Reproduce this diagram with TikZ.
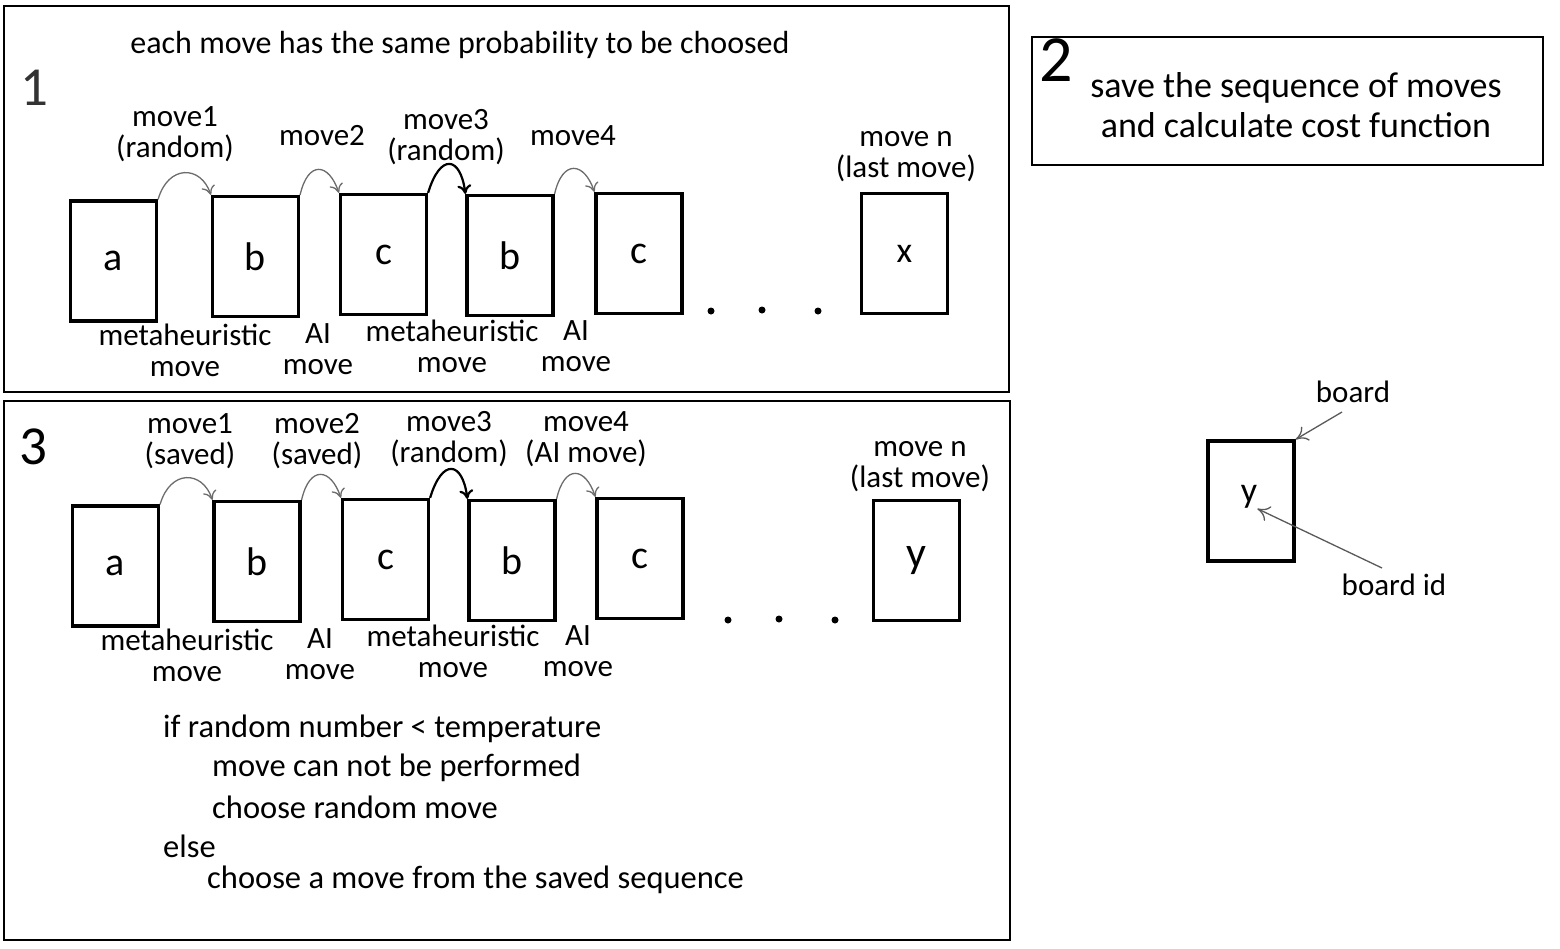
\documentclass[tikz,border=0pt]{standalone}
\usepackage{fontspec}
\setmainfont{Carlito}
\usetikzlibrary{arrows.meta,positioning,calc}

\tikzset{
  cell/.style={draw, line width=3.2pt, minimum width=86pt, minimum height=120pt, inner sep=0pt, font=\fontsize{40}{40}\selectfont},
  lbl/.style={align=center, inner sep=0pt, font=\fontsize{31}{31}\selectfont},
  txt/.style={anchor=west, inner sep=0pt, font=\fontsize{32.5}{32}\selectfont},
  num/.style={inner sep=0pt, font=\fontsize{55}{55}\selectfont},
  panel/.style={draw, line width=2.6pt},
  hop/.style={-{To[length=9pt,width=14pt]}, gray!85!black, line width=1.3pt},
  hopdark/.style={-{To[length=9pt,width=14pt]}, black, line width=2.2pt},
  pointer/.style={-{To[length=12pt,width=16pt]}, gray!70!black, line width=1.3pt},
  dot/.style={circle, fill, inner sep=0pt, minimum size=7pt}
}

\begin{document}
\begin{tikzpicture}[x=1pt,y=-1pt]
\useasboundingbox (0,0) rectangle (1560,948);

% panels
\draw[panel] (4,6) rectangle (1009,392);
\draw[panel] (4,401) rectangle (1010,940);
\draw[panel] (1032,37) rectangle (1543,165);

% panel 1
\node[num, gray!40!black] (n1) at (34,88) {1};
\node[lbl, font=\fontsize{32}{32}\selectfont] (t1) at (460,45) {each move has the same probability to be choosed};

\node[cell] (a1) at (113.5,261) {a};
\node[cell] (b1) at (255.5,256.5) {b};
\node[cell] (c1) at (383.5,254.5) {c};
\node[cell] (d1) at (510,255.5) {b};
\node[cell] (e1) at (639,253.5) {c};
\node[cell, font=\fontsize{36}{36}\selectfont] (x1) at (904.5,253.5) {x};

\node[dot] (p1) at (711,311) {};
\node[dot] (q1) at (762,310) {};
\node[dot] (r1) at (818,311) {};

\node[lbl] (m11) at (175,134) {move1\\(random)};
\node[lbl] (m12) at (322,136) {move2};
\node[lbl] (m13) at (446,137) {move3\\(random)};
\node[lbl] (m14) at (573,136) {move4};
\node[lbl] (m1n) at (906,157) {move n\\(last move)};

\node[lbl] (k11) at (185,350) {metaheuristic\\move};
\node[lbl] (k12) at (318,349) {AI\\move};
\node[lbl] (k13) at (452,346) {metaheuristic\\move};
\node[lbl] (k14) at (576,346) {AI\\move};

\draw[hop] (a1.north east) .. controls +(10,-35) and +(-10,-30) .. (b1.north west);
\draw[hop] (b1.north east) .. controls +(8,-35) and +(-10,-30) .. (c1.north west);
\draw[hopdark] (c1.north east) .. controls +(12,-40) and +(-5,-38) .. (d1.north west);
\draw[hop] (d1.north east) .. controls +(8,-35) and +(-10,-30) .. (e1.north west);

% panel 2
\node[num, font=\fontsize{66}{66}\selectfont] (n2) at (1056,60) {2};
\node[lbl, font=\fontsize{36}{40}\selectfont] (t2) at (1296,105) {save the sequence of moves\\and calculate cost function};

% board legend
\node[cell] (bd) at (1251,501) {};
\node[inner sep=0pt, font=\fontsize{36}{36}\selectfont] (bid) at (1249,497) {y};
\node[lbl] (bl) at (1353,392) {board};
\node[lbl] (bil) at (1394,585) {board id};
\coordinate (bt) at (1342,412);
\coordinate (bit) at (1382,568);
\draw[pointer] (bt) -- (bd.north east);
\draw[pointer] (bit) -- (bid.south east);

% panel 3
\node[num] (n3) at (33,447) {3};

\node[cell] (a3) at (115.5,566) {a};
\node[cell] (b3) at (257,561.5) {b};
\node[cell] (c3) at (385.5,559.5) {c};
\node[cell] (d3) at (512,560.5) {b};
\node[cell] (e3) at (640,558.5) {c};
\node[cell, font=\fontsize{44}{44}\selectfont] (y3) at (916.5,560.5) {y};

\node[dot] (p3) at (728,620) {};
\node[dot] (q3) at (779,619) {};
\node[dot] (r3) at (835,620) {};

\node[lbl] (m31) at (190,441) {move1\\(saved)};
\node[lbl] (m32) at (317,441) {move2\\(saved)};
\node[lbl] (m33) at (449,439) {move3\\(random)};
\node[lbl] (m34) at (586,439) {move4\\(AI move)};
\node[lbl] (m3n) at (920,467) {move n\\(last move)};

\node[lbl] (k31) at (187,655) {metaheuristic\\move};
\node[lbl] (k32) at (320,654) {AI\\move};
\node[lbl] (k33) at (453,651) {metaheuristic\\move};
\node[lbl] (k34) at (578,651) {AI\\move};

\draw[hop] (a3.north east) .. controls +(10,-35) and +(-10,-30) .. (b3.north west);
\draw[hop] (b3.north east) .. controls +(8,-35) and +(-10,-30) .. (c3.north west);
\draw[hopdark] (c3.north east) .. controls +(12,-40) and +(-5,-38) .. (d3.north west);
\draw[hop] (d3.north east) .. controls +(8,-35) and +(-10,-30) .. (e3.north west);

\node[txt] (s1) at (163,729) {if random number < temperature};
\node[txt] (s2) at (212,768) {move can not be performed};
\node[txt] (s3) at (212,807) {choose random move};
\node[txt] (s4) at (163,846) {else};
\node[txt] (s5) at (207,880) {choose a move from the saved sequence};

\end{tikzpicture}
\end{document}
